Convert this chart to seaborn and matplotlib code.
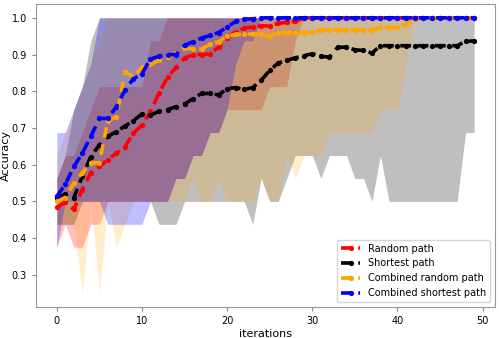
import numpy as np
import pandas as pd
import matplotlib
matplotlib.use("Agg")
import matplotlib.pyplot as plt
import seaborn as sns

# --- dane ---
iterations = list(range(50))

random_mean = [0.484, 0.497, 0.478, 0.532, 0.578, 0.595, 0.614, 0.631, 0.649, 0.686,
               0.708, 0.745, 0.795, 0.838, 0.865, 0.890, 0.900, 0.900, 0.902, 0.920,
               0.945, 0.962, 0.972, 0.975, 0.978, 0.978, 0.985, 0.988, 0.990, 1.0,
               1.0, 1.0, 1.0, 1.0, 1.0, 1.0, 1.0, 1.0, 1.0, 1.0,
               1.0, 1.0, 1.0, 1.0, 1.0, 1.0, 1.0, 1.0, 1.0, 1.0]
random_low = [0.375, 0.4375, 0.375, 0.375, 0.4375, 0.4375, 0.5, 0.5, 0.5, 0.5,
              0.5, 0.5, 0.5, 0.5, 0.5625, 0.5625, 0.625, 0.625, 0.6875, 0.6875,
              0.75, 0.75, 0.75, 0.75, 0.75, 0.8125, 0.8125, 0.8125, 0.9375, 1.0,
              1.0, 1.0, 1.0, 1.0, 1.0, 1.0, 1.0, 1.0, 1.0, 1.0,
              1.0, 1.0, 1.0, 1.0, 1.0, 1.0, 1.0, 1.0, 1.0, 1.0]
random_high = [0.5625, 0.625, 0.625, 0.6875, 0.75, 0.8125, 0.8125, 0.8125, 0.8125, 0.8125,
               0.8125, 0.9375, 0.9375, 1.0, 1.0, 1.0, 1.0, 1.0, 1.0, 1.0,
               1.0, 1.0, 1.0, 1.0, 1.0, 1.0, 1.0, 1.0, 1.0, 1.0,
               1.0, 1.0, 1.0, 1.0, 1.0, 1.0, 1.0, 1.0, 1.0, 1.0,
               1.0, 1.0, 1.0, 1.0, 1.0, 1.0, 1.0, 1.0, 1.0, 1.0]

shortest_mean = [0.510, 0.520, 0.510, 0.568, 0.622, 0.654, 0.677, 0.690, 0.705, 0.720,
                 0.738, 0.735, 0.745, 0.750, 0.758, 0.765, 0.780, 0.794, 0.794, 0.790,
                 0.807, 0.810, 0.805, 0.810, 0.830, 0.857, 0.877, 0.884, 0.891, 0.897,
                 0.902, 0.895, 0.893, 0.920, 0.920, 0.913, 0.911, 0.904, 0.924, 0.924,
                 0.924, 0.924, 0.924, 0.924, 0.924, 0.924, 0.924, 0.924, 0.936, 0.937]
shortest_low = [0.4375, 0.4375, 0.4375, 0.5, 0.5, 0.5, 0.5, 0.5, 0.5, 0.5,
                0.5, 0.5, 0.4375, 0.4375, 0.4375, 0.5, 0.5, 0.5, 0.5, 0.5,
                0.5, 0.5, 0.5, 0.4375, 0.5625, 0.5, 0.5, 0.5625, 0.625, 0.625,
                0.625, 0.5625, 0.625, 0.625, 0.625, 0.5625, 0.5625, 0.5, 0.625, 0.5,
                0.5, 0.5, 0.5, 0.5, 0.5, 0.5, 0.5, 0.5, 0.6875, 0.6875]
shortest_high = [0.5625, 0.625, 0.75, 0.8125, 0.9375, 1.0, 1.0, 1.0, 1.0, 1.0,
                 1.0, 1.0, 1.0, 1.0, 1.0, 1.0, 1.0, 1.0, 1.0, 1.0,
                 1.0, 1.0, 1.0, 1.0, 1.0, 1.0, 1.0, 1.0, 1.0, 1.0,
                 1.0, 1.0, 1.0, 1.0, 1.0, 1.0, 1.0, 1.0, 1.0, 1.0,
                 1.0, 1.0, 1.0, 1.0, 1.0, 1.0, 1.0, 1.0, 1.0, 1.0]

comb_random_mean = [0.500, 0.510, 0.550, 0.578, 0.605, 0.605, 0.720, 0.730, 0.852, 0.840,
                    0.865, 0.873, 0.884, 0.893, 0.905, 0.918, 0.915, 0.915, 0.928, 0.935,
                    0.950, 0.955, 0.955, 0.956, 0.956, 0.951, 0.960, 0.960, 0.960, 0.960,
                    0.962, 0.967, 0.967, 0.967, 0.967, 0.967, 0.967, 0.967, 0.974, 0.974,
                    0.974, 0.983, 0.996, 1.0, 1.0, 1.0, 1.0, 1.0, 1.0, 1.0]
comb_random_low = [0.4375, 0.4375, 0.4375, 0.25, 0.5, 0.25, 0.5, 0.375, 0.4375, 0.5,
                   0.5, 0.5, 0.5, 0.5, 0.5, 0.5, 0.5625, 0.5, 0.5, 0.5625,
                   0.5, 0.5, 0.5, 0.5, 0.5625, 0.5, 0.5, 0.625, 0.5625, 0.625,
                   0.625, 0.625, 0.6875, 0.6875, 0.6875, 0.6875, 0.6875, 0.6875, 0.75, 0.75,
                   0.75, 0.875, 1.0, 1.0, 1.0, 1.0, 1.0, 1.0, 1.0, 1.0]
comb_random_high = [0.625, 0.6875, 0.75, 0.8125, 0.875, 0.9375, 1.0, 1.0, 1.0, 1.0,
                    1.0, 1.0, 1.0, 1.0, 1.0, 1.0, 1.0, 1.0, 1.0, 1.0,
                    1.0, 1.0, 1.0, 1.0, 1.0, 1.0, 1.0, 1.0, 1.0, 1.0,
                    1.0, 1.0, 1.0, 1.0, 1.0, 1.0, 1.0, 1.0, 1.0, 1.0,
                    1.0, 1.0, 1.0, 1.0, 1.0, 1.0, 1.0, 1.0, 1.0, 1.0]

comb_shortest_mean = [0.514, 0.546, 0.595, 0.631, 0.677, 0.726, 0.726, 0.758, 0.803, 0.834,
                      0.848, 0.888, 0.895, 0.900, 0.900, 0.925, 0.935, 0.945, 0.952, 0.960,
                      0.975, 0.990, 0.997, 0.997, 1.0, 1.0, 1.0, 1.0, 1.0, 1.0,
                      1.0, 1.0, 1.0, 1.0, 1.0, 1.0, 1.0, 1.0, 1.0, 1.0,
                      1.0, 1.0, 1.0, 1.0, 1.0, 1.0, 1.0, 1.0, 1.0, 1.0]
comb_shortest_low = [0.375, 0.5, 0.5, 0.5, 0.5, 0.5, 0.4375, 0.4375, 0.4375, 0.4375,
                     0.4375, 0.5, 0.5, 0.5, 0.5625, 0.5625, 0.625, 0.625, 0.6875, 0.6875,
                     0.75, 0.875, 0.9375, 0.9375, 1.0, 1.0, 1.0, 1.0, 1.0, 1.0,
                     1.0, 1.0, 1.0, 1.0, 1.0, 1.0, 1.0, 1.0, 1.0, 1.0,
                     1.0, 1.0, 1.0, 1.0, 1.0, 1.0, 1.0, 1.0, 1.0, 1.0]
comb_shortest_high = [0.6875, 0.6875, 0.75, 0.8125, 0.875, 1.0, 1.0, 1.0, 1.0, 1.0,
                      1.0, 1.0, 1.0, 1.0, 1.0, 1.0, 1.0, 1.0, 1.0, 1.0,
                      1.0, 1.0, 1.0, 1.0, 1.0, 1.0, 1.0, 1.0, 1.0, 1.0,
                      1.0, 1.0, 1.0, 1.0, 1.0, 1.0, 1.0, 1.0, 1.0, 1.0,
                      1.0, 1.0, 1.0, 1.0, 1.0, 1.0, 1.0, 1.0, 1.0, 1.0]

series = [
    ("Random path", "red", 0.25, random_mean, random_low, random_high),
    ("Shortest path", "black", 0.25, shortest_mean, shortest_low, shortest_high),
    ("Combined random path", "orange", 0.2, comb_random_mean, comb_random_low, comb_random_high),
    ("Combined shortest path", "blue", 0.25, comb_shortest_mean, comb_shortest_low, comb_shortest_high),
]

# --- wykres ---
fig, ax = plt.subplots(figsize=(4.99, 3.38), dpi=100)

for name, color, alpha, mean, low, high in series:
    df = pd.DataFrame({"iterations": iterations, "Accuracy": mean})
    ax.fill_between(iterations, low, high, color=color, alpha=alpha, linewidth=0)
    sns.lineplot(data=df, x="iterations", y="Accuracy", ax=ax, color=color, label=name,
                 marker="o", linewidth=2.6, markersize=3.8, markeredgewidth=0)
    # seaborn nadpisuje styl linii -> ustawiamy kreski recznie
    ax.lines[-1].set_linestyle((0, (3.0, 1.8)))

ax.set_xticks([0, 10, 20, 30, 40, 50])
ax.set_yticks([0.3, 0.4, 0.5, 0.6, 0.7, 0.8, 0.9, 1.0])
ax.tick_params(labelsize=7, color="#888888", length=3)
ax.set_xlabel("iterations", fontsize=8, labelpad=2)
ax.set_ylabel("Accuracy", fontsize=8, labelpad=0.5)
for sp in ax.spines.values():
    sp.set_color("#999999")
    sp.set_linewidth(0.8)

ax.legend(loc="lower right", fontsize=7)

fig.subplots_adjust(left=0.072, right=0.992, top=0.988, bottom=0.092)
fig.savefig("out.png", dpi=100)
